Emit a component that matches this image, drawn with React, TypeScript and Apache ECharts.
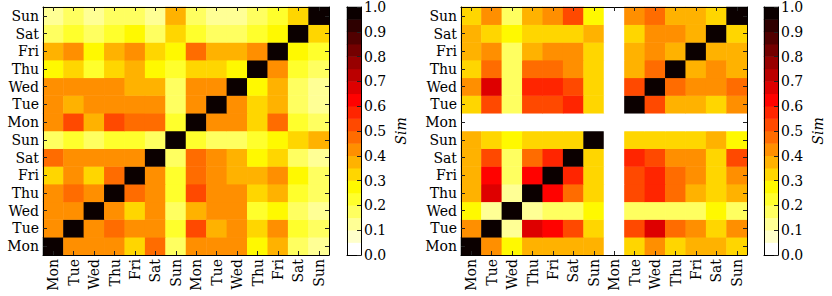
import React, { useEffect, useRef } from "react";
import * as echarts from "echarts";

const dayLabels = ["Mon", "Tue", "Wed", "Thu", "Fri", "Sat", "Sun", "Mon", "Tue", "Wed", "Thu", "Fri", "Sat", "Sun"];
const colorbarMax = 1;
const colorbarInterval = 0.1;
const levelCount = 20;

// rows from bottom (Mon, first week) to top (Sun, second week); columns Mon..Sun, Mon..Sun
const leftSim: number[][] = [
  [1, 0.42, 0.42, 0.42, 0.32, 0.47, 0.17, 0.42, 0.42, 0.42, 0.27, 0.37, 0.17, 0.12],
  [0.42, 1, 0.42, 0.47, 0.42, 0.42, 0.22, 0.52, 0.37, 0.42, 0.32, 0.42, 0.22, 0.17],
  [0.42, 0.42, 1, 0.42, 0.32, 0.42, 0.17, 0.37, 0.42, 0.42, 0.22, 0.27, 0.17, 0.12],
  [0.42, 0.47, 0.42, 1, 0.47, 0.42, 0.22, 0.52, 0.42, 0.42, 0.32, 0.37, 0.22, 0.17],
  [0.32, 0.42, 0.32, 0.47, 1, 0.42, 0.22, 0.47, 0.42, 0.37, 0.37, 0.42, 0.27, 0.17],
  [0.47, 0.42, 0.42, 0.42, 0.42, 1, 0.17, 0.47, 0.42, 0.37, 0.27, 0.32, 0.17, 0.12],
  [0.17, 0.22, 0.17, 0.22, 0.22, 0.17, 1, 0.22, 0.17, 0.17, 0.22, 0.27, 0.32, 0.37],
  [0.42, 0.52, 0.37, 0.52, 0.47, 0.47, 0.22, 1, 0.42, 0.42, 0.32, 0.47, 0.22, 0.17],
  [0.42, 0.37, 0.42, 0.42, 0.42, 0.42, 0.17, 0.42, 1, 0.42, 0.32, 0.37, 0.17, 0.12],
  [0.42, 0.42, 0.42, 0.42, 0.37, 0.37, 0.17, 0.42, 0.42, 1, 0.27, 0.37, 0.17, 0.12],
  [0.27, 0.32, 0.22, 0.32, 0.37, 0.27, 0.22, 0.32, 0.32, 0.27, 1, 0.42, 0.22, 0.17],
  [0.37, 0.42, 0.27, 0.37, 0.42, 0.32, 0.27, 0.47, 0.37, 0.37, 0.42, 1, 0.27, 0.22],
  [0.17, 0.22, 0.17, 0.22, 0.27, 0.17, 0.32, 0.22, 0.17, 0.17, 0.22, 0.27, 1, 0.32],
  [0.12, 0.17, 0.12, 0.17, 0.17, 0.12, 0.37, 0.17, 0.12, 0.12, 0.17, 0.22, 0.32, 1],
];

const rightSim: number[][] = [
  [1, 0.42, 0.27, 0.37, 0.37, 0.37, 0.37, 0, 0.32, 0.42, 0.32, 0.37, 0.37, 0.32],
  [0.42, 1, 0.12, 0.67, 0.62, 0.52, 0.32, 0, 0.52, 0.67, 0.47, 0.42, 0.32, 0.42],
  [0.27, 0.12, 1, 0.12, 0.17, 0.17, 0.27, 0, 0.17, 0.17, 0.17, 0.17, 0.27, 0.17],
  [0.37, 0.67, 0.12, 1, 0.62, 0.47, 0.32, 0, 0.52, 0.57, 0.47, 0.37, 0.32, 0.37],
  [0.37, 0.62, 0.17, 0.62, 1, 0.57, 0.32, 0, 0.52, 0.57, 0.47, 0.42, 0.32, 0.42],
  [0.37, 0.52, 0.17, 0.47, 0.57, 1, 0.32, 0, 0.57, 0.52, 0.42, 0.42, 0.32, 0.52],
  [0.37, 0.32, 0.27, 0.32, 0.32, 0.32, 1, 0, 0.32, 0.32, 0.32, 0.32, 0.37, 0.27],
  [0, 0, 0, 0, 0, 0, 0, 0, 0, 0, 0, 0, 0, 0],
  [0.32, 0.52, 0.17, 0.52, 0.52, 0.57, 0.32, 0, 1, 0.52, 0.37, 0.37, 0.32, 0.42],
  [0.42, 0.67, 0.17, 0.57, 0.57, 0.52, 0.32, 0, 0.52, 1, 0.47, 0.42, 0.42, 0.47],
  [0.32, 0.47, 0.17, 0.47, 0.47, 0.42, 0.32, 0, 0.37, 0.47, 1, 0.37, 0.42, 0.37],
  [0.37, 0.42, 0.17, 0.37, 0.42, 0.42, 0.32, 0, 0.37, 0.42, 0.37, 1, 0.37, 0.37],
  [0.37, 0.32, 0.27, 0.32, 0.32, 0.32, 0.37, 0, 0.32, 0.42, 0.42, 0.37, 1, 0.32],
  [0.32, 0.42, 0.17, 0.37, 0.42, 0.52, 0.27, 0, 0.42, 0.47, 0.37, 0.37, 0.32, 1],
];

const FONT = "DejaVu Serif";

function hotR(v: number): string {
  const x = 1 - v;
  const clip = (t: number) => Math.max(0, Math.min(1, t));
  const r = clip(0.0416 + (x * (1 - 0.0416)) / 0.365079);
  const g = clip((x - 0.365079) / (0.746032 - 0.365079));
  const b = clip((x - 0.746032) / (1 - 0.746032));
  return `rgb(${Math.round(r * 255)},${Math.round(g * 255)},${Math.round(b * 255)})`;
}

function toCells(m: number[][]) {
  const out: number[][] = [];
  m.forEach((row, y) => row.forEach((v, x) => out.push([x, y, v])));
  return out;
}

export default function App() {
  const ref = useRef<HTMLDivElement>(null);
  useEffect(() => {
    if (!ref.current) return;
    const chart = echarts.init(ref.current, null, { renderer: "svg" });

    const step = colorbarMax / levelCount;
    const pieces = Array.from({ length: levelCount }, (_, i) => ({
      min: i * step,
      max: (i + 1) * step,
      color: hotR(i / (levelCount - 1)),
    }));
    const bandCats = Array.from({ length: levelCount }, (_, i) => String(i));
    const bandCells = Array.from({ length: levelCount }, (_, i) => [0, i, (i + 0.5) * step]);

    const lineStyle = { color: "#000", width: 1 };
    const tickStyle = { color: "#222", width: 1 };
    const labelStyle = { fontFamily: FONT, fontSize: 14, color: "#000" };

    const grids: any[] = [];
    const xAxes: any[] = [];
    const yAxes: any[] = [];
    const series: any[] = [];

    const addHeat = (left: number, m: number[][]) => {
      const gi = grids.length;
      grids.push({ left, top: 7, width: 286, height: 248, containLabel: false });
      const xi = xAxes.length;
      const yi = yAxes.length;
      const base = {
        type: "category",
        gridIndex: gi,
        data: dayLabels,
        z: 10,
        axisLine: { show: true, onZero: false, lineStyle },
        axisTick: { show: true, inside: true, alignWithLabel: true, interval: 0, length: 4, lineStyle: tickStyle },
        splitLine: { show: false },
      };
      xAxes.push({ ...base, position: "bottom", axisLabel: { ...labelStyle, rotate: 90, margin: 4, interval: 0 } });
      xAxes.push({ ...base, position: "top", axisLabel: { show: false } });
      yAxes.push({ ...base, position: "left", axisLabel: { ...labelStyle, margin: 4, interval: 0 } });
      yAxes.push({ ...base, position: "right", axisLabel: { show: false } });
      series.push({
        type: "heatmap",
        xAxisIndex: xi,
        yAxisIndex: yi,
        data: toCells(m),
        itemStyle: { borderWidth: 0 },
        emphasis: { disabled: true },
      });
    };

    const addBar = (left: number) => {
      const gi = grids.length;
      grids.push({ left, top: 7, width: 14, height: 248, containLabel: false });
      const xi = xAxes.length;
      const yi = yAxes.length;
      const cat = {
        type: "category",
        gridIndex: gi,
        z: 10,
        axisLine: { show: true, onZero: false, lineStyle },
        axisTick: { show: false },
        axisLabel: { show: false },
        splitLine: { show: false },
      };
      xAxes.push({ ...cat, data: [""], position: "bottom" });
      xAxes.push({ ...cat, data: [""], position: "top" });
      yAxes.push({ ...cat, data: bandCats, position: "left" });
      yAxes.push({
        type: "value",
        gridIndex: gi,
        position: "right",
        min: 0,
        max: colorbarMax,
        interval: colorbarInterval,
        z: 10,
        axisLine: { show: true, onZero: false, lineStyle },
        axisTick: { show: true, inside: true, length: 4, lineStyle: tickStyle },
        axisLabel: { ...labelStyle, margin: 3, formatter: (v: number) => v.toFixed(1) },
        splitLine: { show: false },
        name: "Sim",
        nameLocation: "middle",
        nameRotate: 90,
        nameGap: 33,
        nameTextStyle: { fontFamily: FONT, fontSize: 14, fontStyle: "italic", color: "#000" },
      });
      series.push({
        type: "heatmap",
        xAxisIndex: xi,
        yAxisIndex: yi,
        data: bandCells,
        itemStyle: { borderWidth: 0 },
        emphasis: { disabled: true },
      });
    };

    addHeat(43, leftSim);
    addBar(347);
    addHeat(461, rightSim);
    addBar(764);

    chart.setOption({
      animation: false,
      backgroundColor: "#fff",
      grid: grids,
      xAxis: xAxes,
      yAxis: yAxes,
      visualMap: {
        type: "piecewise",
        show: false,
        dimension: 2,
        seriesIndex: series.map((_, i) => i),
        pieces,
      },
      series,
    });
    return () => chart.dispose();
  }, []);
  return (
    <div
      ref={ref}
      style={{ position: "fixed", left: 0, top: 0, width: 832, height: 296 }}
    />
  );
}
